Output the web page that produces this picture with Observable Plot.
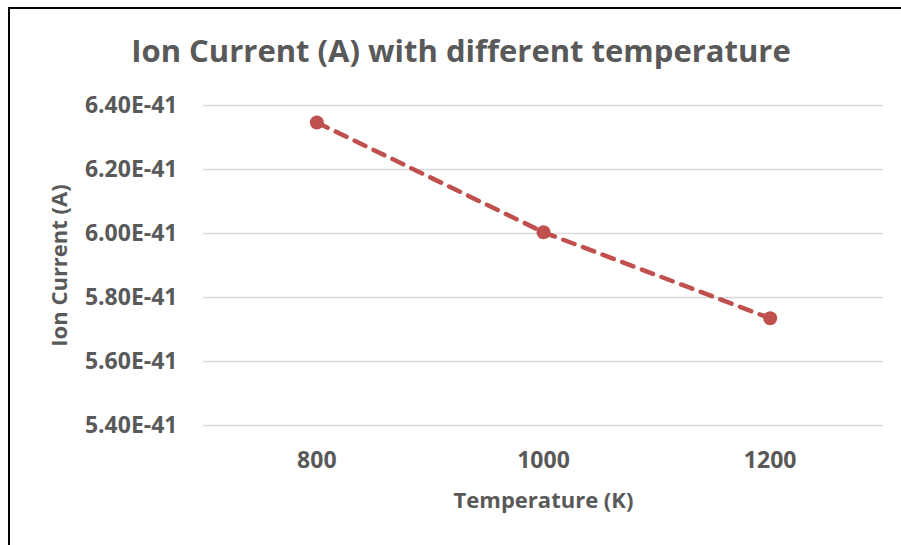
<!DOCTYPE html>
<html>
<head>
<meta charset="utf-8">
<script src="https://cdn.jsdelivr.net/npm/d3@7"></script>
<script src="https://cdn.jsdelivr.net/npm/@observablehq/plot@0.6"></script>
<style>
  html, body { margin: 0; padding: 0; background: #fff; width: 901px; height: 545px; overflow: hidden; }
  #frame { position: absolute; left: 8px; top: 7px; width: 950px; height: 600px; border-left: 2px solid #000; border-top: 2px solid #000; }
  #title { position: absolute; left: 0; top: 30px; width: 922px; text-align: center; font-family: "Open Sans", sans-serif; font-weight: bold; font-size: 31px; color: #595959; line-height: 40px; }
  #chart { position: absolute; left: 0; top: 80px; }
  #chart svg g[aria-label="x-axis label"] text, #chart svg g[aria-label="y-axis label"] text { font-size: 22px; }
</style>
</head>
<body>
<div id="frame"></div>
<div id="title">Ion Current (A) with different temperature</div>
<div id="chart"></div>
<script>
const temperatures = [800, 1000, 1200];
const ionCurrent = [6.347e-41, 6.004e-41, 5.735e-41];
const yTicks = [5.4e-41, 5.6e-41, 5.8e-41, 6.0e-41, 6.2e-41, 6.4e-41];
const xTicks = [800, 1000, 1200];

const data = temperatures.map((t, i) => ({t, v: ionCurrent[i]}));
const color = "#C0504D";

const plot = Plot.plot({
  width: 901,
  height: 465,
  marginTop: 25,
  marginBottom: 120,
  marginLeft: 203,
  marginRight: 18,
  style: {fontFamily: "Open Sans, sans-serif", fontSize: "23px", fontWeight: "bold", color: "#595959", background: "transparent", overflow: "visible"},
  x: {domain: [700, 1300], ticks: xTicks, tickFormat: d => String(d), tickSize: 0, tickPadding: 26, label: "Temperature (K)", labelAnchor: "center", labelArrow: "none", labelOffset: 82},
  y: {domain: [5.4e-41, 6.4e-41], ticks: yTicks, tickFormat: v => (v / 1e-41).toFixed(2) + "E-41", tickSize: 0, tickPadding: 26, label: "Ion Current (A)", labelAnchor: "center", labelArrow: "none", labelOffset: 152},
  marks: [
    Plot.gridY(yTicks, {stroke: "#d9d9d9", strokeOpacity: 1, strokeWidth: 1.5}),
    Plot.line(data, {x: "t", y: "v", stroke: color, strokeWidth: 4.5, strokeDasharray: "12,9", strokeLinecap: "round"}),
    Plot.dot(data, {x: "t", y: "v", r: 7, fill: color, stroke: "none"})
  ]
});
document.getElementById("chart").appendChild(plot);
</script>
</body>
</html>
